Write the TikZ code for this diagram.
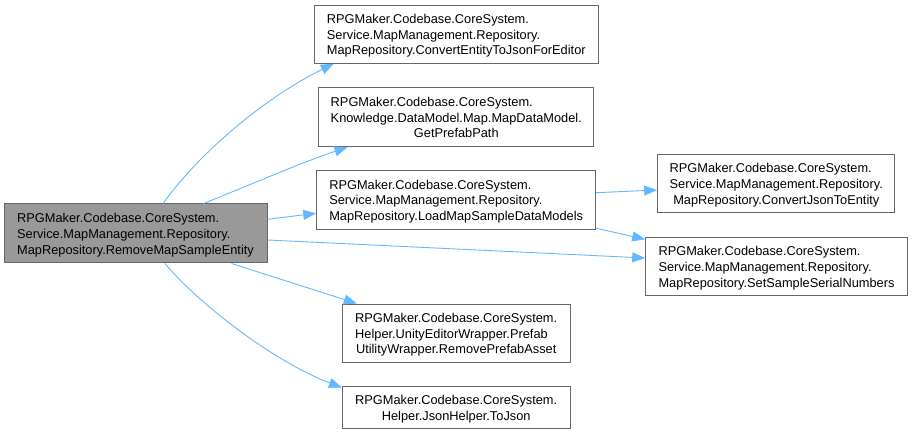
\documentclass[tikz,border=0pt]{standalone}
\usepackage{fontspec}
\setmainfont{Liberation Sans}
\usetikzlibrary{calc,arrows.meta}
\definecolor{edgeblue}{HTML}{63B8FF}
\definecolor{boxborder}{HTML}{666666}
\definecolor{srcfill}{HTML}{999999}
\newcommand\dlab[2]{\begin{tabular}{@{}l@{}}\rule{0pt}{14.7pt}#1\\\multicolumn{1}{@{}c@{}}{#2}\end{tabular}}
\begin{document}
\begin{tikzpicture}[x=1pt,y=-1pt,
  fn/.style={draw=boxborder,line width=1pt,fill=white,inner sep=0pt,
    font=\fontsize{12.8}{15.8}\selectfont},
  srcbox/.style={fn,fill=srcfill},
  call/.style={draw=edgeblue,line width=0.9pt,-{Triangle[length=13pt,width=10pt]}}]
\useasboundingbox (0,0) rectangle (913,435);

\node[srcbox,minimum width=263pt,minimum height=59pt] (src) at (135.5,233.5)
  {\dlab{RPGMaker.Codebase.CoreSystem.\\Service.MapManagement.Repository.}{MapRepository.RemoveMapSampleEntity}};
\node[fn,minimum width=284pt,minimum height=58pt] (n1) at (456.3,34.2)
  {\dlab{RPGMaker.Codebase.CoreSystem.\\Service.MapManagement.Repository.}{MapRepository.ConvertEntityToJsonForEditor}};
\node[fn,minimum width=274.7pt,minimum height=59pt] (n2) at (456.3,117.2)
  {\dlab{RPGMaker.Codebase.CoreSystem.\\Knowledge.DataModel.Map.MapDataModel.}{GetPrefabPath}};
\node[fn,minimum width=279pt,minimum height=58.6pt] (n3) at (456.2,200)
  {\dlab{RPGMaker.Codebase.CoreSystem.\\Service.MapManagement.Repository.}{MapRepository.LoadMapSampleDataModels}};
\node[fn,minimum width=237.3pt,minimum height=57.7pt] (n4) at (776.3,183.8)
  {\dlab{RPGMaker.Codebase.CoreSystem.\\Service.MapManagement.Repository.}{MapRepository.ConvertJsonToEntity}};
\node[fn,minimum width=261.6pt,minimum height=58.4pt] (n5) at (776.5,266.5)
  {\dlab{RPGMaker.Codebase.CoreSystem.\\Service.MapManagement.Repository.}{MapRepository.SetSampleSerialNumbers}};
\node[fn,minimum width=227.7pt,minimum height=58.3pt] (n6) at (456.2,333.2)
  {\dlab{RPGMaker.Codebase.CoreSystem.\\Helper.UnityEditorWrapper.Prefab}{UtilityWrapper.RemovePrefabAsset}};
\node[fn,minimum width=227.7pt,minimum height=42.3pt] (n7) at (456.2,407.8)
  {\dlab{RPGMaker.Codebase.CoreSystem.}{Helper.JsonHelper.ToJson}};

\draw[call] ($(src.north)+(27.5,0)$) .. controls (203,148) and (270,95) .. ($(n1.south west)+(20,0)$);
\draw[call] ($(src.north)+(68,0)$) .. controls (250,185) and (300,163) .. ($(n2.south west)+(29,0)$);
\draw[call] ($(src.east)+(0,-14.2)$) -- ($(n3.west)+(0,13.3)$);
\draw[call] ($(src.east)+(0,6.5)$) -- ($(n5.west)+(0,-8.5)$);
\draw[call] ($(src.south)+(96,0)$) -- ($(n6.north west)+(15,0)$);
\draw[call] ($(src.south)+(29.5,0)$) .. controls (195,300) and (270,360) .. ($(n7.north west)+(0,1.5)$);
\draw[call] ($(n3.east)+(0,-7.3)$) -- ($(n4.west)+(0,6.2)$);
\draw[call] ($(n3.east)+(0,28.3)$) -- ($(n5.west)+(0,-27.2)$);
\end{tikzpicture}
\end{document}
